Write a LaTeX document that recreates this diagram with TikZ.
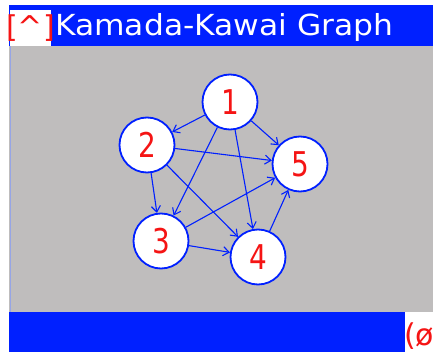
\documentclass[tikz,border=0pt]{standalone}
\usepackage{fontspec}
\setmainfont{DejaVu Sans}
\usetikzlibrary{arrows.meta}
\definecolor{WinBlue}{RGB}{0,32,255}
\definecolor{PanelGray}{RGB}{191,189,189}
\definecolor{EdgeLight}{RGB}{150,165,230}
\definecolor{MarkRed}{RGB}{245,20,20}
\begin{document}
\begin{tikzpicture}[x=1pt,y=-1pt,>={Straight Barb[length=6pt,width=9pt]},
  vertex/.style={circle,draw=WinBlue,line width=1.8pt,fill=white,minimum size=55pt,inner sep=0pt,
    text=MarkRed,font=\fontsize{31}{31}\selectfont},
  link/.style={->,WinBlue,line width=1.1pt}]
\useasboundingbox (0,0) rectangle (433,352);\clip (0,0) rectangle (433,352);
% window frame: title bar, panel, status bar
\fill[PanelGray] (9,46) rectangle (433,312);\draw[EdgeLight,line width=1pt] (10,46)--(10,312);
\fill[WinBlue] (9,5) rectangle (433,46);\fill[white] (10,10) rectangle (51,46);
\node[MarkRed,anchor=center,font=\fontsize{30}{30}\selectfont] (menu) at (30.5,28) {[\textasciicircum]};
\node[white,anchor=west,inner sep=0pt,font=\fontsize{29}{29}\selectfont] (title) at (55,28) {\scalebox{1.08}[1]{Kamada-Kawai Graph}};
\fill[WinBlue] (9,312) rectangle (405,352);
\node[MarkRed,anchor=west,inner sep=0pt,font=\fontsize{30}{30}\selectfont] (state) at (404,336) {(ø};
% the five vertices
\node[vertex] (n1) at (230,102) {\scalebox{0.9}[1.1]{1}};\node[vertex] (n2) at (147,145) {\scalebox{0.9}[1.1]{2}};
\node[vertex] (n3) at (161,241) {\scalebox{0.9}[1.1]{3}};\node[vertex] (n4) at (258,257) {\scalebox{0.9}[1.1]{4}};
\node[vertex] (n5) at (300,164) {\scalebox{0.9}[1.1]{5}};
\foreach \a/\b in {1/2,1/3,1/4,1/5,2/3,2/4,2/5,3/4,3/5,4/5} \draw[link] (n\a)--(n\b);
\end{tikzpicture}
\end{document}
